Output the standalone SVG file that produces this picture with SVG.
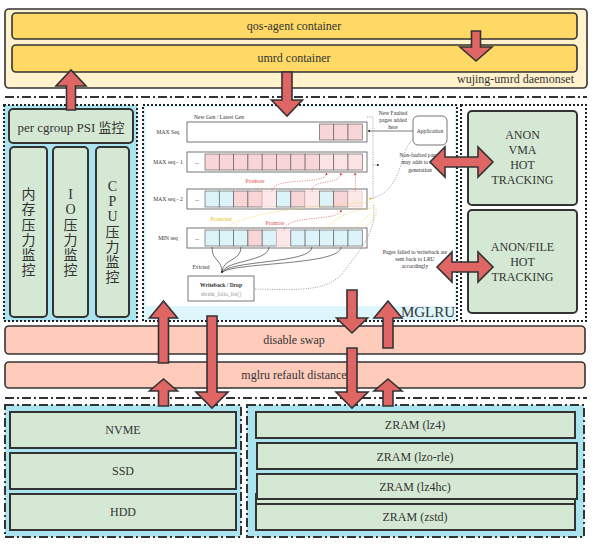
<svg xmlns="http://www.w3.org/2000/svg" width="592" height="551" viewBox="0 0 592 551">
<defs>
<style>
.t{font-family:"Liberation Serif","Noto Sans CJK SC",serif;fill:#333;text-anchor:middle;dominant-baseline:central}
.s{font-family:"Liberation Serif",serif;fill:#333;text-anchor:middle;dominant-baseline:central;font-size:5.6px}
.g{fill:#D5E8D4;stroke:#333;stroke-width:2}
.sal{fill:#FFCCBC;stroke:#333;stroke-width:1.6}
.dot{fill:none;stroke:#222;stroke-width:2;stroke-dasharray:2 2}
.dd{stroke:#333;stroke-width:2;stroke-dasharray:9 3 2 3}
.arr{fill:#E06666;stroke:#333;stroke-width:1.6;stroke-linejoin:miter}
.row{fill:#fff;stroke:#666;stroke-width:0.9}
.P{fill:#F8D5D7;stroke:#666;stroke-width:0.7}
.L{fill:#FCE4E5;stroke:#666;stroke-width:0.7}
.C{fill:#DDF3FA;stroke:#666;stroke-width:0.7}
.D{fill:#FCE8E8;stroke:#E8A8A8;stroke-width:0.7;stroke-dasharray:1.2 1}
.rd{fill:none;stroke:#E06060;stroke-width:0.7;stroke-dasharray:1.2 1.2}
.yd{fill:none;stroke:#F2D04A;stroke-width:0.7;stroke-dasharray:1.2 1.2}
.gd{fill:none;stroke:#888;stroke-width:0.7;stroke-dasharray:1.2 1.2}
.ev{fill:none;stroke:#444;stroke-width:0.7}
</style>
<marker id="mr" viewBox="0 0 6 6" refX="5" refY="3" markerWidth="4" markerHeight="4" orient="auto"><path d="M0,0 L6,3 L0,6 Z" fill="#E04040"/></marker>
<marker id="mk" viewBox="0 0 6 6" refX="5" refY="3" markerWidth="4" markerHeight="4" orient="auto"><path d="M0,0 L6,3 L0,6 Z" fill="#222"/></marker>
<marker id="my" viewBox="0 0 6 6" refX="5" refY="3" markerWidth="4" markerHeight="4" orient="auto"><path d="M0,0 L6,3 L0,6 Z" fill="#E8C020"/></marker>
</defs>
<rect width="592" height="551" fill="#fff"/>

<g id="daemonset">
<rect x="5" y="9" width="582" height="79" rx="4" fill="#FFF2CC" stroke="#333" stroke-width="1.6"/>
<text class="t" x="574" y="79" font-size="12" style="text-anchor:end">wujing-umrd daemonset</text>
</g>
<g id="qos-agent">
<rect x="12" y="13" width="565" height="26" rx="4" fill="#FFD966" stroke="#333" stroke-width="1.6"/>
<text class="t" x="294" y="26" font-size="12">qos-agent container</text>
</g>
<g id="umrd">
<rect x="12" y="45" width="565" height="27" rx="4" fill="#FFD966" stroke="#333" stroke-width="1.6"/>
<text class="t" x="294" y="58" font-size="12">umrd container</text>
</g>

<line class="dd" x1="5" y1="97" x2="587" y2="97"/>

<g id="psi-panel">
<rect x="4" y="105" width="133" height="216" fill="#A9E4EF"/>
<rect class="dot" x="4" y="105" width="133" height="216"/>
</g>
<g id="psi">
<rect class="g" x="9" y="109" width="124" height="34" rx="4"/>
<text class="t" x="71" y="127" font-size="13">per cgroup PSI 监控</text>
</g>
<g id="mem-psi">
<rect class="g" x="10" y="147" width="37" height="170" rx="4"/>
<text class="t" x="28.5" font-size="14"><tspan x="28.5" y="194">内</tspan><tspan x="28.5" y="209">存</tspan><tspan x="28.5" y="225">压</tspan><tspan x="28.5" y="240">力</tspan><tspan x="28.5" y="255">监</tspan><tspan x="28.5" y="270">控</tspan></text>
</g>
<g id="io-psi">
<rect class="g" x="53" y="147" width="35" height="170" rx="4"/>
<text class="t" x="70.5" font-size="14"><tspan x="70.5" y="194">I</tspan><tspan x="70.5" y="209">O</tspan><tspan x="70.5" y="225">压</tspan><tspan x="70.5" y="240">力</tspan><tspan x="70.5" y="255">监</tspan><tspan x="70.5" y="270">控</tspan></text>
</g>
<g id="cpu-psi">
<rect class="g" x="96" y="147" width="33" height="170" rx="4"/>
<text class="t" x="112.5" font-size="14"><tspan x="112.5" y="186">C</tspan><tspan x="112.5" y="201">P</tspan><tspan x="112.5" y="216">U</tspan><tspan x="112.5" y="232">压</tspan><tspan x="112.5" y="247">力</tspan><tspan x="112.5" y="262">监</tspan><tspan x="112.5" y="277">控</tspan></text>
</g>

<g id="mglru">
<rect x="143" y="105" width="314" height="216" fill="#DDF5FB"/>
<rect class="dot" x="143" y="105" width="314" height="216"/>
<rect x="146" y="107" width="309" height="199" fill="#fff"/>
<text class="t" x="428" y="312" font-size="15">MGLRU</text>
<text class="s" x="219" y="117">New Gen / Latest Gen</text>
<text class="s" x="168" y="132">MAX Seq</text>
<text class="s" x="168" y="162">MAX seq - 1</text>
<text class="s" x="168" y="199">MAX seq - 2</text>
<text class="s" x="168" y="238">MIN seq</text>
<rect class="row" x="187" y="122" width="180" height="20"/>
<rect class="P" x="319.4" y="124" width="14.3" height="16"/><rect class="P" x="333.7" y="124" width="14.3" height="16"/><rect class="P" x="348" y="124" width="14.3" height="16"/>
<rect class="row" x="187" y="152" width="180" height="20"/>
<text class="s" x="197" y="162">...</text>
<rect class="P" x="205" y="154" width="14.3" height="16"/><rect class="P" x="219.3" y="154" width="14.3" height="16"/><rect class="P" x="233.6" y="154" width="14.3" height="16"/><rect class="P" x="247.9" y="154" width="14.3" height="16"/><rect class="P" x="262.2" y="154" width="14.3" height="16"/><rect class="P" x="276.5" y="154" width="14.3" height="16"/><rect class="P" x="290.8" y="154" width="14.3" height="16"/><rect class="P" x="305.1" y="154" width="14.3" height="16"/><rect class="L" x="319.4" y="154" width="14.3" height="16"/><rect class="L" x="333.7" y="154" width="14.3" height="16"/><rect class="L" x="348" y="154" width="14.3" height="16"/>
<rect class="row" x="187" y="189" width="180" height="20"/>
<text class="s" x="197" y="199">...</text>
<rect class="C" x="205" y="191" width="14.3" height="16"/><rect class="C" x="219.3" y="191" width="14.3" height="16"/><rect class="P" x="233.6" y="191" width="14.3" height="16"/><rect class="P" x="247.9" y="191" width="14.3" height="16"/><rect class="D" x="262.2" y="191" width="14.3" height="16"/><rect class="C" x="276.5" y="191" width="14.3" height="16"/><rect class="P" x="290.8" y="191" width="14.3" height="16"/><rect class="D" x="305.1" y="191" width="14.3" height="16"/><rect class="C" x="319.4" y="191" width="14.3" height="16"/><rect class="P" x="333.7" y="191" width="14.3" height="16"/><rect class="D" x="348" y="191" width="14.3" height="16"/>
<rect class="row" x="187" y="228" width="180" height="20"/>
<text class="s" x="197" y="238">...</text>
<rect class="C" x="205" y="230" width="14.3" height="16"/><rect class="C" x="219.3" y="230" width="14.3" height="16"/><rect class="C" x="233.6" y="230" width="14.3" height="16"/><rect class="P" x="247.9" y="230" width="14.3" height="16"/><rect class="C" x="262.2" y="230" width="14.3" height="16"/><rect class="D" x="276.5" y="230" width="14.3" height="16"/><rect class="C" x="290.8" y="230" width="14.3" height="16"/><rect class="C" x="305.1" y="230" width="14.3" height="16"/><rect class="C" x="319.4" y="230" width="14.3" height="16"/><rect class="C" x="333.7" y="230" width="14.3" height="16"/><rect class="C" x="348" y="230" width="14.3" height="16"/>
<text class="s" x="255" y="181" style="fill:#E05050">Promote</text>
<text class="s" x="221" y="219" style="fill:#E8B800">Protected</text>
<text class="s" x="275" y="223" style="fill:#E05050">Promote</text>
<text class="s" x="201" y="267">Evicted</text>
<rect x="188" y="276" width="66" height="25" fill="#fff" stroke="#555" stroke-width="0.8"/>
<text class="s" x="221" y="284.5" font-weight="bold">Writeback / Drop</text>
<text class="s" x="221" y="294" style="fill:#999">shrink_folio_list()</text>
<text class="s" x="393" y="113">New Faulted</text>
<text class="s" x="393" y="120">pages added</text>
<text class="s" x="393" y="127">here</text>
<rect x="413" y="116" width="34" height="29" rx="5" fill="#fff" stroke="#555" stroke-width="0.8"/>
<text class="s" x="430" y="131">Application</text>
<text class="s" x="420" y="155">Non-faulted pages</text>
<text class="s" x="420" y="162">may adds to new</text>
<text class="s" x="420" y="170">generation</text>
<text class="s" x="415" y="252">Pages failed to writeback are</text>
<text class="s" x="415" y="259">sent back to LRU</text>
<text class="s" x="415" y="266">accordingly</text>
<path class="rd" d="M272,191 C272,176 326,186 326.6,173" marker-end="url(#mr)"/>
<path class="rd" d="M312,191 C312,178 341,186 340.9,173" marker-end="url(#mr)"/>
<path class="rd" d="M355,191 C356,184 355,178 355.2,173" marker-end="url(#mr)"/>
<path class="rd" d="M284,230 C286,214 341,222 340.9,210" marker-end="url(#mr)"/>
<path class="yd" d="M228,226 C262,208 330,206 370,202"/>
<path class="yd" d="M326,229 C338,214 356,210 372,208"/>
<path class="yd" d="M355,229 C362,220 368,216 372,213"/>
<path class="yd" d="M372,202 C380,210 376,222 365,226"/>
<path class="ev" d="M212,247 C212,262 222,258 222,273" marker-end="url(#mk)"/>
<path class="ev" d="M241,247 C241,262 222,258 222,273"/>
<path class="ev" d="M269,247 C269,262 224,260 222,273"/>
<path class="ev" d="M312,247 C312,264 226,260 222,273"/>
<path class="ev" d="M341,247 C341,266 228,262 222,273"/>
<line x1="413" y1="131" x2="368" y2="131" stroke="#444" stroke-width="0.7" marker-end="url(#mk)"/>
<path class="gd" d="M367,117 H373 V199"/>
<path class="gd" d="M373,165 H379" marker-end="url(#mk)"/>
<path class="gd" d="M414,138 C398,150 405,192 369,199" marker-end="url(#my)"/>
<path class="gd" d="M255,289 C300,290 330,292 345,270 C362,248 378,228 373,205"/>
</g>

<g id="tracking-panel">
<rect class="dot" x="461" y="105" width="125" height="216" fill="#fff"/>
</g>
<g id="anon-vma">
<rect class="g" x="468" y="111" width="109" height="94" rx="4"/>
<text class="t" x="522.5" font-size="12"><tspan x="522.5" y="135">ANON</tspan><tspan x="522.5" y="150">VMA</tspan><tspan x="522.5" y="165">HOT</tspan><tspan x="522.5" y="180">TRACKING</tspan></text>
</g>
<g id="anon-file">
<rect class="g" x="468" y="210" width="109" height="103" rx="4"/>
<text class="t" x="522.5" font-size="12"><tspan x="522.5" y="247">ANON/FILE</tspan><tspan x="522.5" y="262">HOT</tspan><tspan x="522.5" y="277">TRACKING</tspan></text>
</g>

<g id="disable-swap">
<rect class="sal" x="5" y="326" width="580" height="28" rx="4"/>
<text class="t" x="294" y="340" font-size="12">disable swap</text>
</g>
<g id="refault">
<rect class="sal" x="5" y="362" width="580" height="26" rx="4"/>
<text class="t" x="294" y="375" font-size="12">mglru refault distance</text>
</g>

<line class="dd" x1="5" y1="398" x2="587" y2="398"/>

<g id="disk-panel">
<rect x="5" y="405" width="236" height="132" fill="#A9E4EF" class="dd"/>
</g>
<g id="nvme"><rect class="g" x="10" y="412" width="226" height="36"/><text class="t" x="123" y="430" font-size="12">NVME</text></g>
<g id="ssd"><rect class="g" x="10" y="453" width="226" height="36"/><text class="t" x="123" y="471" font-size="12">SSD</text></g>
<g id="hdd"><rect class="g" x="10" y="494" width="226" height="36"/><text class="t" x="123" y="512" font-size="12">HDD</text></g>

<g id="zram-panel">
<rect x="247" y="405" width="337" height="132" fill="#A9E4EF" class="dd"/>
</g>
<g id="zram-lz4"><rect class="g" x="256" y="412" width="319" height="26"/><text class="t" x="415" y="425" font-size="12">ZRAM (lz4)</text></g>
<g id="zram-lzo"><rect class="g" x="257" y="443" width="320" height="26"/><text class="t" x="415" y="457" font-size="12">ZRAM (lzo-rle)</text></g>
<g id="zram-stack"><rect class="g" x="256" y="494" width="319" height="36"/></g>
<g id="zram-lz4hc"><rect class="g" x="257" y="474" width="320" height="25"/><text class="t" x="415" y="487" font-size="12">ZRAM (lz4hc)</text></g>
<g id="zram-zstd"><rect class="g" x="256" y="504" width="319" height="26"/><text class="t" x="415" y="517" font-size="12">ZRAM (zstd)</text></g>

<g id="connectors">
<path class="arr" d="M471.5,31 H480.5 V47 H492 L476,61 L460,47 H471.5 Z"/>
<path class="arr" d="M66.5,110 V86 H56 L71,70 L86,86 H75.5 V110 Z"/>
<path class="arr" d="M282,72 H292 V100 H302.5 L287,116 L271.5,100 H282 Z"/>
<path class="arr" d="M158.5,363 V318 H149.5 L163.5,301 L177.5,318 H168.5 V363 Z"/>
<path class="arr" d="M207,316 H217 V392 H228 L212,408 L196,392 H207 Z"/>
<path class="arr" d="M347,290 H357 V318 H367.5 L352,333 L336.5,318 H347 Z"/>
<path class="arr" d="M347,348 H357 V392 H368 L352,408 L336,392 H347 Z"/>
<path class="arr" d="M383,348 V318 H374 L388,301 L402,318 H393 V348 Z"/>
<path class="arr" d="M158.5,406 V391 H149.5 L163.5,379 L177.5,391 H168.5 V406 Z"/>
<path class="arr" d="M383,406 V391 H374 L388,379 L402,391 H393 V406 Z"/>
<path class="arr" d="M430,162 L445,147 V157 H478 V147 L493,162 L478,177 V167 H445 V177 Z"/>
<path class="arr" d="M437,267 L452,252 V262 H478 V252 L493,267 L478,282 V272 H452 V282 Z"/>
</g>
</svg>
